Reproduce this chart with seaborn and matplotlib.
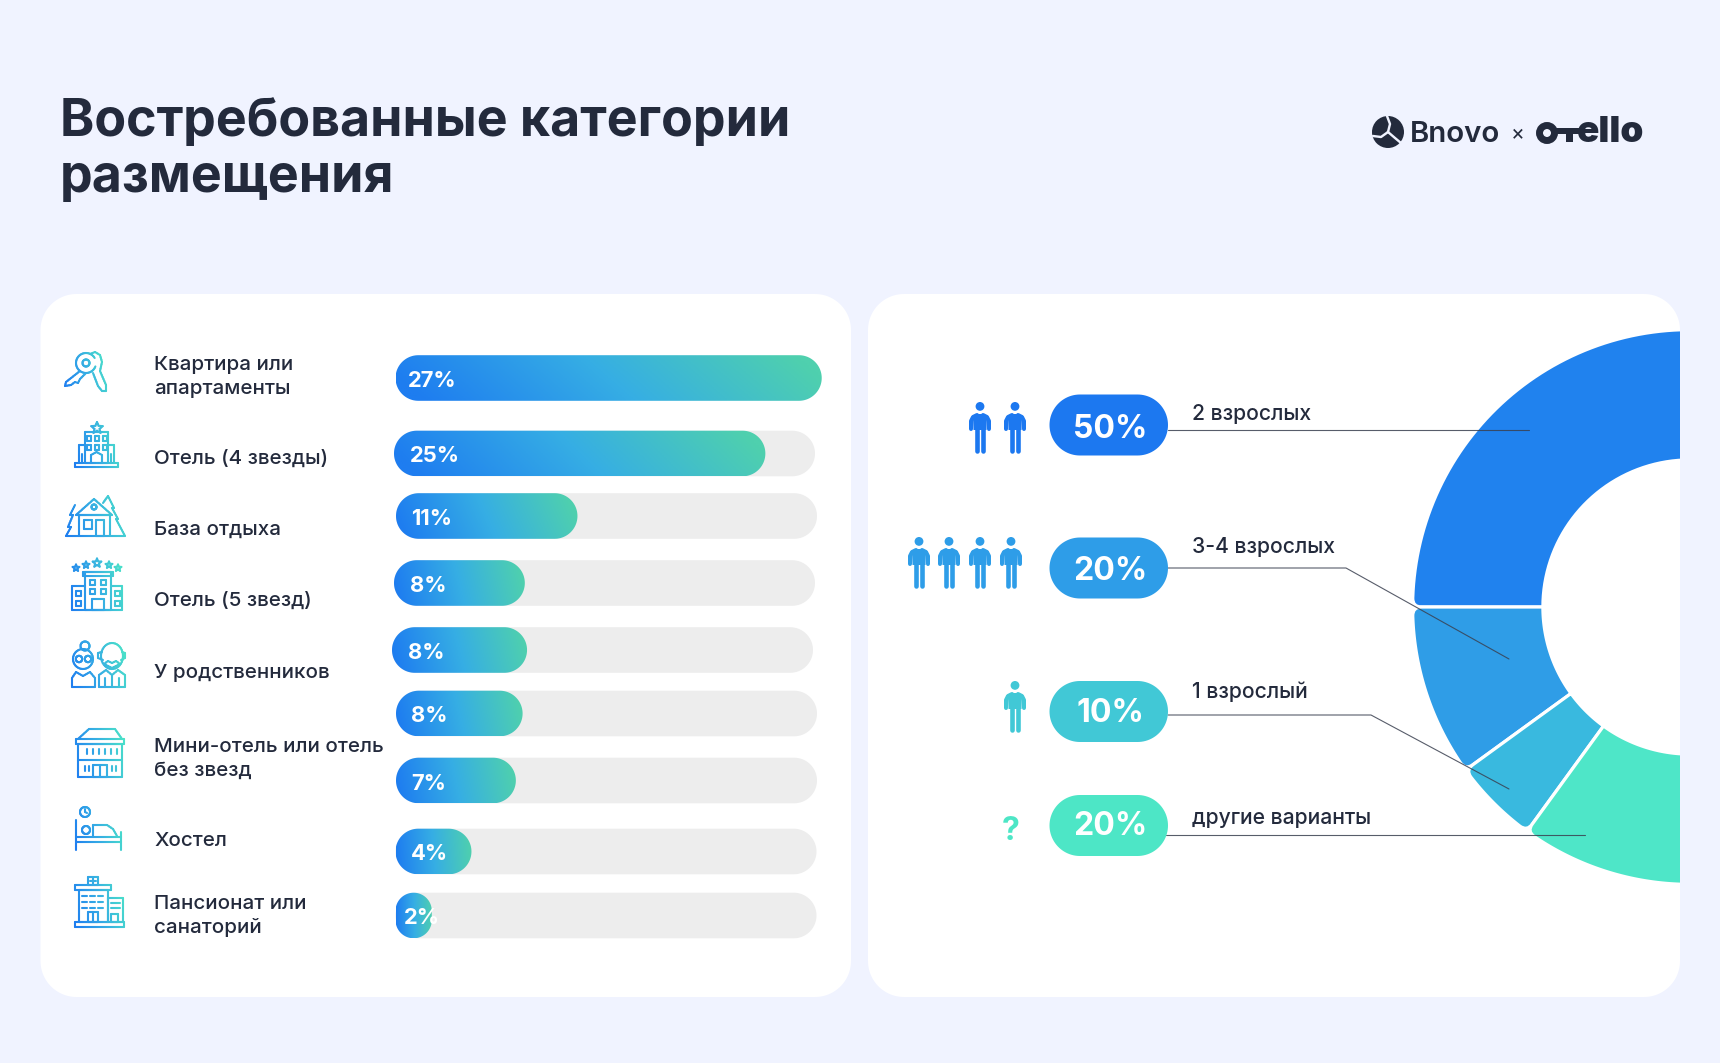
import numpy as np
import pandas as pd
import seaborn as sns
import matplotlib.pyplot as plt
from matplotlib.collections import LineCollection
from matplotlib.colors import LinearSegmentedColormap
from matplotlib.patches import Circle, PathPatch, Polygon, Rectangle
from matplotlib.path import Path

W, H = 1720, 1063

# data
title_lines = ["Востребованные категории", "размещения"]
categories = [
    ["Квартира или", "апартаменты"],
    ["Отель (4 звезды)"],
    ["База отдыха"],
    ["Отель (5 звезд)"],
    ["У родственников"],
    ["Мини-отель или отель", "без звезд"],
    ["Хостел"],
    ["Пансионат или", "санаторий"],
]
bar_labels = ["27%", "25%", "11%", "8%", "8%", "8%", "7%", "4%", "2%"]
bar_fill = [101, 88, 43, 31, 32, 30, 28.4, 18, 8.6]  # drawn length, % of the track
track_full = [100] * 9

guest_groups = ["2 взрослых", "3-4 взрослых", "1 взрослый", "другие варианты"]
guest_values = [50, 20, 10, 20]
guest_labels = ["50%", "20%", "10%", "20%"]

# layout, in pixels of the 1720x1063 picture
row_y = [378, 453.5, 516, 583, 650, 713.5, 780.5, 851.5, 915.5]
row_shift = [0.5, -1, 1, -1, -3, 1, 1, 0.5, 0.5]
label_pad = [12, 16, 15, 16, 16, 15, 15, 15, 8]
bar_h = 45.6
cat_baseline = [370, 464, 535, 606, 678, 752, 846, 909]
guest_pill_y = [425, 568, 711.5, 825.5]
guest_pct_y = [438.5, 580.5, 722.5, 835]
guest_text_y = [420, 553, 697.5, 824]
guest_colors = ["#1C78F0", "#2E9DE8", "#41C8D6", "#4DE6C6"]
wedge_colors = ["#2082EE", "#2F9DE7", "#39B9DF", "#4EE6C8"]
leaders = [
    [(1168, 430), (1529, 430)],
    [(1168, 568), (1346, 568), (1509, 659)],
    [(1168, 715), (1371, 715), (1509, 789)],
    [(1166, 835), (1585, 835)],
]

BG = "#F0F3FF"
INK = "#232A3C"
TRACK = "#EDEDED"
grad_cmap = LinearSegmentedColormap.from_list("bar", ["#1E7DF0", "#36AEE4", "#4FD0AE"])
icon_cmap = LinearSegmentedColormap.from_list("icon", ["#1E7DF0", "#36AEE4", "#4DE6C6"])

sns.set_theme(style="white")
plt.rcParams["font.family"] = ["Inter", "DejaVu Sans"]

fig = plt.figure(figsize=(W / 100, H / 100), dpi=100, facecolor=BG)


def pixel_axes(zorder):
    a = fig.add_axes([0, 0, 1, 1], zorder=zorder)
    a.set_xlim(0, W)
    a.set_ylim(H, 0)
    a.set_autoscale_on(False)
    a.axis("off")
    return a


back = pixel_axes(0)
top = pixel_axes(3)


def round_rect(x0, x1, y0, y1, r):
    pts = []
    for cx, cy, a0 in [(x1 - r, y0 + r, -90), (x1 - r, y1 - r, 0), (x0 + r, y1 - r, 90), (x0 + r, y0 + r, 180)]:
        t = np.radians(np.linspace(a0, a0 + 90, 24))
        pts += list(zip(cx + r * np.cos(t), cy + r * np.sin(t)))
    pts.append(pts[0])
    return Path(pts, closed=True)


for x0, x1 in [(40.5, 851), (868, 1680)]:
    back.add_patch(PathPatch(round_rect(x0, x1, 294, 997, 36), fc="white", ec="none"))

# title and logo
for line, y in zip(title_lines, [135.5, 191.5]):
    top.text(60, y, line, fontsize=37.4, fontweight="bold", color=INK, va="baseline")


def stroke_round(pts, color, lw_px):
    top.add_patch(PathPatch(Path(pts), fc="none", ec=color, lw=lw_px * 0.72, capstyle="round", joinstyle="round"))


top.add_patch(Circle((1388, 132), 16, fc=INK, ec="none"))
for pts in ([(1388, 132), (1390, 124), (1387, 116)], [(1388, 132), (1381, 137), (1373, 136)],
            [(1388, 132), (1395, 138), (1401, 143)]):
    stroke_round(pts, BG, 2.4)
top.text(1410, 142, "Bnovo", fontsize=21.2, fontweight="semibold", color=INK, va="baseline")
top.text(1518, 139, "×", fontsize=15, color=INK, ha="center", va="baseline")
top.add_patch(Circle((1547, 133), 7.5, fc="none", ec=INK, lw=5))
top.add_patch(Rectangle((1555, 128), 24, 6, fc=INK, ec="none"))
top.add_patch(Rectangle((1566, 133), 7, 9, fc=INK, ec="none"))
top.text(1577, 142, "ello", fontsize=26.5, fontweight="black", color=INK, va="baseline")

# bars go through seaborn: x is % of the track, y is the picture's own row position
ax_bar = fig.add_axes([395 / W, 0, 422 / W, 1], zorder=1)
frame = pd.DataFrame({"row": row_y, "fill": bar_fill, "track": track_full})
sns.barplot(data=frame, x="track", y="row", orient="y", native_scale=True, color=TRACK, ax=ax_bar)
n_track = len(ax_bar.patches)
sns.barplot(data=frame, x="fill", y="row", orient="y", native_scale=True, color="#1E7DF0", ax=ax_bar)
ax_bar.set_xlim(0, 100)
ax_bar.set_ylim(H, 0)
ax_bar.axis("off")


def to_px(x, y):
    return top.transData.inverted().transform(ax_bar.transData.transform((x, y)))


def pill(x0, x1, yc, h, **kw):
    r = min(h, x1 - x0) / 2
    p = PathPatch(round_rect(x0, x1, yc - h / 2, yc + h / 2, r), ec="none", **kw)
    top.add_patch(p)
    return p


tracks = ax_bar.patches[:n_track]
fills = ax_bar.patches[n_track:]
for i, (tr, fl) in enumerate(zip(tracks, fills)):
    yc = tr.get_y() + tr.get_height() / 2
    x0, yp = to_px(0, yc)
    tx1, _ = to_px(tr.get_width(), yc)
    fx1, _ = to_px(fl.get_width(), yc)
    x0 += row_shift[i]
    tx1 += row_shift[i] - 1
    fx1 += row_shift[i]
    if i > 0:
        pill(x0, tx1, yp, bar_h, fc=TRACK)
    shape = pill(x0, fx1, yp, bar_h, fc="none")
    xx, yy = np.meshgrid(np.linspace(0, 1, 200), np.linspace(0, 1, 20))
    slant = (yy - 0.5) * 0.12 * min(1, (fx1 - x0) / 200)
    img = top.imshow(np.clip(xx - slant, 0, 1), cmap=grad_cmap, vmin=0, vmax=1,
                     extent=(x0, fx1, yp + bar_h / 2, yp - bar_h / 2), aspect="auto", zorder=2)
    img.set_clip_path(shape)
    top.text(x0 + label_pad[i], yp + 9, bar_labels[i], fontsize=15.8, fontweight="bold",
             color="white", va="baseline", zorder=4)
    tr.set_visible(False)
    fl.set_visible(False)

# category labels
for lines, base in zip(categories, cat_baseline):
    for k, line in enumerate(lines):
        top.text(154, base + 24 * k, line, fontsize=14.8, fontweight="medium", color=INK, va="baseline")


# line icons with a left-to-right gradient
def arc(cx, cy, r, a0=0, a1=360, n=40, ry=None):
    t = np.radians(np.linspace(a0, a1, n))
    return list(zip(cx + r * np.cos(t), cy + (ry or r) * np.sin(t)))


def box(x0, y0, x1, y1):
    return [(x0, y0), (x1, y0), (x1, y1), (x0, y1), (x0, y0)]


def star(cx, cy, r):
    t = np.radians(np.arange(0, 11) * 36 - 90)
    rr = np.where(np.arange(11) % 2 == 0, r, r * 0.45)
    return list(zip(cx + rr * np.cos(t), cy + rr * np.sin(t)))


def draw_icon(lines, lw=1.5):
    allp = np.vstack([np.array(l, float) for l in lines])
    xmin, xmax = allp[:, 0].min(), allp[:, 0].max()
    ymin, ymax = allp[:, 1].min(), allp[:, 1].max()
    segs, vals = [], []
    for l in lines:
        l = np.array(l, float)
        for a, b in zip(l[:-1], l[1:]):
            n = max(1, int(np.hypot(*(b - a)) / 2))
            ts = np.linspace(0, 1, n + 1)
            pts = a + (b - a) * ts[:, None]
            for p, q in zip(pts[:-1], pts[1:]):
                segs.append([p, q])
                m = (p + q) / 2
                vals.append(0.8 * (m[0] - xmin) / (xmax - xmin) + 0.2 * (ymax - m[1]) / (ymax - ymin))
    top.add_collection(LineCollection(segs, colors=icon_cmap(np.array(vals)), linewidths=lw, capstyle="round"))


keys = [arc(86, 363, 10, 20, 330), arc(86, 363, 3.5),
        [(80, 371), (66, 382), (65, 386), (71, 385), (75, 382), (78, 383), (80, 379), (86, 373)],
        [(90, 354), (95, 352), (100, 355), (102, 362), (100, 371), (106, 385), (106, 391), (102, 391), (98, 386), (93, 373)]]
hotel4 = [box(75, 463, 118, 467), box(85, 432, 108, 463), [(85, 445), (79, 445), (79, 463)], [(108, 445), (114, 445), (114, 463)],
          star(97, 428, 6), box(87, 436, 91, 441), box(95, 436, 99, 441), box(103, 436, 107, 441),
          box(87, 445, 91, 450), box(95, 445, 99, 450), box(103, 445, 107, 450),
          [(91, 463), (91, 455), (96.5, 452), (102, 455), (102, 463)], [(82, 463), (82, 454)], [(111, 463), (111, 454)]]
lodge = [[(76, 515), (94, 499), (112, 515), (76, 515)], box(79, 515, 110, 536), box(84, 520, 92, 529), box(96, 520, 104, 536),
         arc(94, 507, 2.5), [(75, 505), (70, 515), (73, 515), (68, 527), (71, 527), (66, 536), (79, 536)],
         [(103, 503), (108, 496), (114, 508), (112, 508), (118, 519), (116, 519), (125, 536), (110, 536)]]
hotel5 = [star(76, 568, 3.5), star(86, 565, 3.5), star(97, 563, 4.5), star(109, 565, 3.5), star(118, 568, 3.5),
          box(85, 572, 111, 610), box(83, 572, 113, 576), [(85, 586), (72, 586), (72, 610), (122, 610), (122, 586), (111, 586)],
          box(90, 580, 95, 585), box(101, 580, 106, 585), box(90, 589, 95, 594), box(101, 589, 106, 594),
          box(92, 599, 104, 610), box(76, 591, 81, 596), box(115, 591, 120, 596), box(76, 601, 81, 606), box(115, 601, 120, 606)]
couple = [arc(83, 659, 10), arc(85, 646, 4.5), arc(79, 659, 3.2), arc(88, 659, 3.2),
          [(72, 687), (72, 678), (76, 672), (83, 676), (90, 672), (95, 678), (95, 687), (72, 687)],
          arc(112, 656, 11, ry=13), [(103, 660), (98, 658), (98, 653), (102, 652)], [(121, 660), (125, 658), (125, 653), (122, 652)],
          [(104, 664), (108, 661), (112, 663), (116, 661), (120, 664), (112, 668), (104, 664)],
          [(99, 687), (99, 675), (106, 670), (112, 675), (118, 670), (125, 675), (125, 687), (99, 687)],
          [(112, 675), (112, 687)], [(105, 678), (105, 687)], [(119, 678), (119, 687)]]
mini = [[(78, 739), (89, 729), (115, 729), (122, 739)], box(76, 739, 124, 744), box(78, 744, 122, 777), [(78, 760), (122, 760)],
        box(93, 765, 107, 777), [(100, 765), (100, 777)]]
mini += [[(x, 749), (x, 754)] for x in (87, 93, 99, 105, 111, 117)] + [[(x, 766), (x, 771)] for x in (85, 89, 112, 116)]
hostel = [arc(85, 812, 5), [(85, 809), (85, 812), (87, 813)], [(76, 820), (76, 850)], [(121, 832), (121, 850)],
          [(76, 842), (121, 842)], [(76, 837), (121, 837)], arc(86, 830, 4),
          [(93, 836), (93, 825), (107, 825), (113, 829), (117, 836)]]
pension = [box(75, 922, 124, 927), box(79, 890, 108, 922), box(75, 885, 111, 890), box(88, 877, 98, 885),
           [(93, 878), (93, 884)], [(90, 881), (96, 881)], box(108, 898, 123, 922), box(88, 912, 98, 922), [(93, 912), (93, 922)]]
pension += [[(x, y), (x + 5, y)] for y in (896, 902, 908) for x in (82, 90, 98)]
pension += [[(111, y), (120, y)] for y in (903, 908)] + [box(111, 914, 118, 922)]
for icon in (keys, hotel4, lodge, hotel5, couple, mini, hostel, pension):
    draw_icon(icon)


# donut: the five slices fill a circle, the last one (the hidden half) is not drawn
cx, cy, R = 1690, 607, 276
ax_pie = fig.add_axes([1414 / W, 1 - (cy + R) / H, (1680 - 1414) / W, 2 * R / H], zorder=2)
wedges, _ = ax_pie.pie(guest_values + [sum(guest_values)], startangle=90, radius=1.005,
                       colors=wedge_colors + ["none"], wedgeprops=dict(width=0.472))
ax_pie.set_xlim(-1, (1680 - cx) / R)
ax_pie.set_ylim(-1, 1)
ax_pie.set_aspect("auto")


def polar(r, deg):
    return (r * np.cos(np.radians(deg)), r * np.sin(np.radians(deg)))


def rounded_wedge(r, r_in, t1, t2, c=0.032):
    dc = np.degrees(c)
    verts = [polar(r_in, t1), polar(r - c, t1), polar(r, t1), polar(r, t1 + dc)]
    codes = [Path.MOVETO, Path.LINETO, Path.CURVE3, Path.CURVE3]
    for t in np.linspace(t1 + dc, t2 - dc, 60)[1:]:
        verts.append(polar(r, t))
        codes.append(Path.LINETO)
    verts += [polar(r, t2), polar(r - c, t2)]
    codes += [Path.CURVE3, Path.CURVE3]
    for t in np.linspace(t2, t1, 40):
        verts.append(polar(r_in, t))
        codes.append(Path.LINETO)
    verts.append(polar(r_in, t1))
    codes.append(Path.CLOSEPOLY)
    return Path(verts, codes)


for w, color in zip(wedges, wedge_colors + [None]):
    if color:
        ax_pie.add_patch(PathPatch(rounded_wedge(w.r, w.r - w.width, w.theta1, w.theta2),
                                   fc=color, ec="white", lw=2.3))
    w.set_visible(False)


# right-hand column
def person(xc, t, color):
    top.add_patch(Circle((xc, t + 4.4), 4.4, fc=color, ec="none"))
    top.add_patch(Polygon([(xc - 7, t + 16), (xc - 3, t + 12), (xc + 3, t + 12), (xc + 7, t + 16), (xc + 6.5, t + 28),
                           (xc - 6.5, t + 28)], fc=color, ec="none"))
    stroke_round([(xc - 9, t + 27), (xc - 9, t + 19), (xc - 7, t + 15), (xc - 3, t + 13)], color, 4)
    stroke_round([(xc + 9, t + 27), (xc + 9, t + 19), (xc + 7, t + 15), (xc + 3, t + 13)], color, 4)
    stroke_round([(xc - 3.4, t + 26), (xc - 3.4, t + 48.5)], color, 4.6)
    stroke_round([(xc + 3.4, t + 26), (xc + 3.4, t + 48.5)], color, 4.6)


for line in leaders:
    xs, ys = zip(*line)
    top.plot(xs, ys, color="#3A4050", lw=0.8, alpha=0.85, zorder=5)

person_sets = [[(980, 402), (1015, 402)], [(919, 537), (949, 537), (980, 537), (1011, 537)], [(1015, 681)], []]
for i, y in enumerate(guest_pill_y):
    c = guest_colors[i]
    pill(1049.5, 1168, y, 61, fc=c, zorder=6)
    top.text(1110, guest_pct_y[i], guest_labels[i], fontsize=23, fontweight="bold", color="white",
             ha="center", va="baseline", zorder=7)
    top.text(1192, guest_text_y[i], guest_groups[i], fontsize=15.2, fontweight="medium", color=INK, va="baseline")
    for xc, t in person_sets[i]:
        person(xc, t, c)
top.text(1011, 840, "?", fontsize=23, fontweight="bold", color=guest_colors[3], ha="center", va="baseline")

fig.savefig("out.png", dpi=100, facecolor=BG)
